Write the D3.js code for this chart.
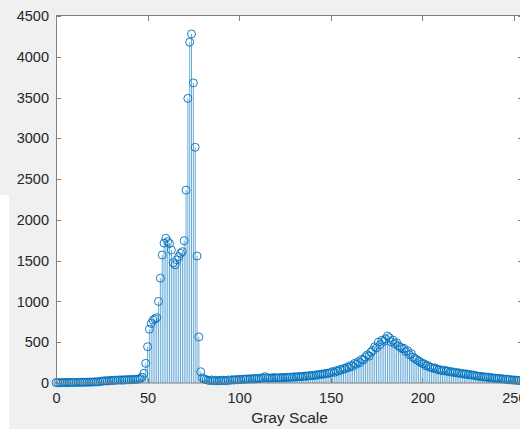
<!DOCTYPE html>
<html><head><meta charset="utf-8">
<script src="https://cdn.jsdelivr.net/npm/d3@7"></script>
<style>
html,body{margin:0;padding:0;background:#f0f0f0;}
svg{display:block;}
text{font-family:"Liberation Sans",Arial,Helvetica,sans-serif;fill:#262626;}
</style></head>
<body>
<script>
// Histogram counts for gray levels 0..255
const counts = [
  5, 3, 4, 6, 5, 4, 7, 5, 6, 8,
  7, 6, 9, 8, 10, 9, 8, 11, 10, 12,
  11, 14, 13, 15, 18, 22, 25, 28, 24, 30,
  32, 29, 35, 33, 36, 38, 34, 40, 37, 42,
  39, 44, 41, 46, 43, 48, 55, 72, 119, 241,
  445, 660, 730, 770, 785, 800, 1000, 1285, 1570, 1715,
  1775, 1735, 1710, 1630, 1475, 1450, 1510, 1550, 1590, 1610,
  1745, 2365, 3490, 4180, 4280, 3680, 2890, 1557, 565, 138,
  62, 48, 40, 35, 30, 38, 28, 33, 26, 31,
  29, 35, 30, 27, 38, 33, 40, 36, 42, 39,
  45, 41, 48, 44, 50, 47, 52, 49, 55, 51,
  58, 54, 60, 62, 78, 65, 59, 63, 61, 66,
  64, 60, 67, 63, 69, 65, 71, 68, 73, 70,
  76, 72, 78, 80, 75, 83, 86, 81, 90, 88,
  95, 92, 100, 98, 105, 110, 108, 115, 120, 118,
  128, 140, 130, 150, 145, 165, 160, 178, 175, 195,
  190, 215, 205, 240, 230, 262, 250, 290, 285, 320,
  345, 330, 380, 400, 445, 430, 500, 470, 525, 510,
  540, 575, 555, 505, 525, 480, 495, 455, 440, 420,
  425, 385, 395, 345, 360, 315, 300, 285, 270, 255,
  240, 235, 210, 215, 195, 190, 180, 185, 170, 160,
  162, 150, 158, 145, 148, 136, 140, 128, 132, 122,
  125, 115, 118, 108, 112, 102, 105, 96, 98, 90,
  86, 80, 82, 74, 76, 70, 72, 64, 66, 58,
  60, 54, 56, 50, 52, 45, 48, 40, 42, 36,
  38, 33, 35, 30, 32, 28
];
const grayLevels = counts.map((_, i) => i);
const xTicks = [0, 50, 100, 150, 200, 250];
const yTicks = [0, 500, 1000, 1500, 2000, 2500, 3000, 3500, 4000, 4500];
const xLabel = "Gray Scale";

(function () {
const W = 520, H = 429;
const svg = d3.select("body").append("svg").attr("width", W).attr("height", H);

svg.append("rect").attr("x",0).attr("y",0).attr("width",W).attr("height",H).attr("fill","#f0f0f0");
svg.append("rect").attr("x",0).attr("y",195).attr("width",9).attr("height",H-195).attr("fill","#ffffff");

const pL = 56, pR = 523, pT = 16, pB = 383;
const x = d3.scaleLinear().domain([0, 255]).range([pL, pR]);
const y = d3.scaleLinear().domain([0, 4500]).range([pB, pT]);

svg.append("rect").attr("x",pL).attr("y",pT).attr("width",pR-pL).attr("height",pB-pT).attr("fill","#fff");

const col = "#0072BD";
const g = svg.append("g");
g.selectAll("line.stem").data(grayLevels).join("line")
  .attr("class","stem")
  .attr("x1", d => x(d)).attr("x2", d => x(d))
  .attr("y1", y(0)).attr("y2", d => y(counts[d]))
  .attr("stroke", col).attr("stroke-width", 0.6);
g.selectAll("circle").data(grayLevels).join("circle")
  .attr("cx", d => x(d)).attr("cy", d => y(counts[d]))
  .attr("r", 4).attr("fill","none").attr("stroke", col).attr("stroke-width", 0.9);

const axCol = "#808080";
svg.append("rect").attr("x",pL+0.5).attr("y",pT-0.5).attr("width",pR-pL).attr("height",pB-pT+0.5)
  .attr("fill","none").attr("stroke",axCol).attr("stroke-width",1);

const xb = svg.append("g").attr("transform",`translate(0,${pB})`)
  .call(d3.axisBottom(x).tickValues(xTicks).tickFormat(d3.format("d")).tickSize(0).tickPadding(10));
xb.select(".domain").remove();
xb.selectAll("text").attr("font-size","14.5px").attr("fill","#262626");
svg.append("g").selectAll("line").data(xTicks).join("line")
  .attr("x1",d=>Math.round(x(d))+0.5).attr("x2",d=>Math.round(x(d))+0.5)
  .attr("y1",pB).attr("y2",pB-5).attr("stroke",axCol);
svg.append("g").selectAll("line").data(xTicks).join("line")
  .attr("x1",d=>Math.round(x(d))+0.5).attr("x2",d=>Math.round(x(d))+0.5)
  .attr("y1",pT).attr("y2",pT+5).attr("stroke",axCol);

const yl = svg.append("g").attr("transform",`translate(${pL},0)`)
  .call(d3.axisLeft(y).tickValues(yTicks).tickFormat(d3.format("d")).tickSize(0).tickPadding(7));
yl.select(".domain").remove();
yl.selectAll("text").attr("font-size","14.5px").attr("fill","#262626");
svg.append("g").selectAll("line").data(yTicks).join("line")
  .attr("x1",pL).attr("x2",pL+5)
  .attr("y1",d=>Math.round(y(d))+0.5).attr("y2",d=>Math.round(y(d))+0.5).attr("stroke",axCol);
svg.append("g").selectAll("line").data(yTicks).join("line")
  .attr("x1",pR-5).attr("x2",pR)
  .attr("y1",d=>Math.round(y(d))+0.5).attr("y2",d=>Math.round(y(d))+0.5).attr("stroke",axCol);

svg.append("text").attr("x",(pL+pR)/2).attr("y",423).attr("text-anchor","middle")
  .attr("font-size","15.5px").text(xLabel);
})();
</script>
</body></html>
